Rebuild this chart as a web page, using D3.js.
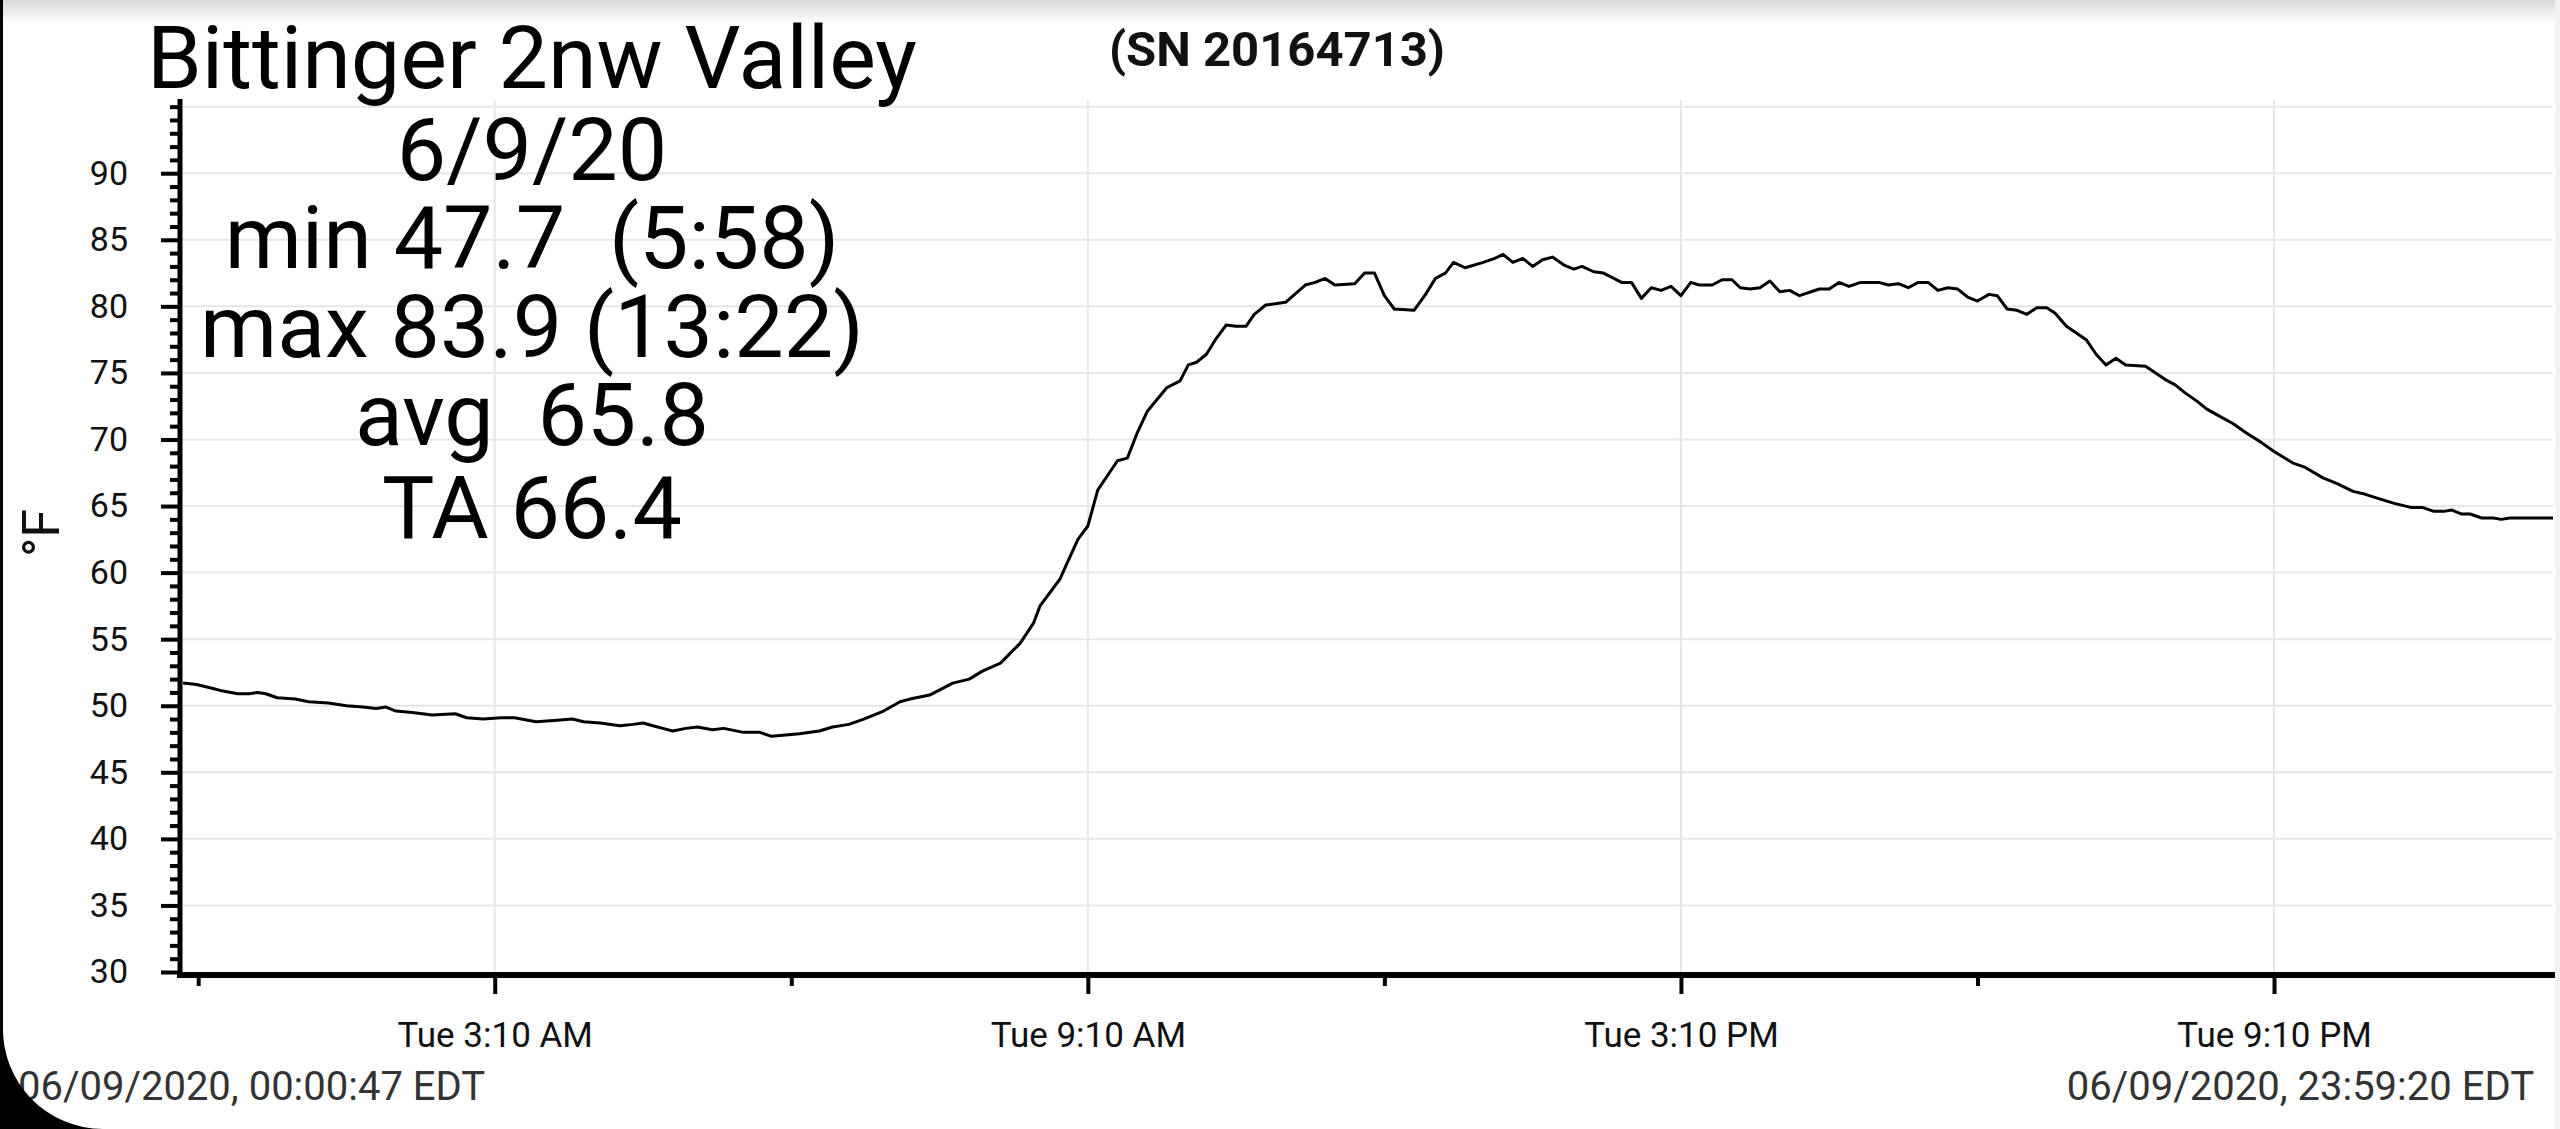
<!DOCTYPE html>
<html>
<head>
<meta charset="utf-8">
<script src="https://cdn.jsdelivr.net/npm/d3@7"></script>
<style>
  body { margin: 0; background: #fff; }
  svg { display: block; }
  text { font-family: Roboto, "Noto Sans", sans-serif; }
</style>
</head>
<body>
<svg id="chart" width="2560" height="1129"></svg>
<script>
// readings for 6/9/20 (time of day, deg F)
const day = "2020-06-09";
const times = ["00:00:47","00:09","00:19","00:25","00:34","00:41","00:46","00:51","00:58","01:09","01:17","01:29","01:40","01:50","01:58","02:04","02:10","02:20","02:32","02:46","02:53","03:03","03:14","03:22","03:35","03:46","03:57","04:04","04:14","04:26","04:34","04:40","04:46","04:52","04:58","05:06","05:13","05:22","05:29","05:41","05:51","05:58","06:15","06:27","06:35","06:45","06:54","07:06","07:16","07:22","07:34","07:48","07:58","08:06","08:17","08:29","08:37","08:41","08:53","08:57","09:04","09:10","09:16","09:28","09:34","09:40","09:46","09:58","10:06","10:11","10:16","10:22","10:28","10:34","10:40","10:46","10:51","10:58","11:10","11:22","11:28","11:34","11:40","11:52","11:58","12:04","12:10","12:16","12:28","12:35","12:41","12:47","12:52","12:59","13:10","13:17","13:22","13:28","13:34","13:40","13:46","13:52","13:59","14:05","14:10","14:17","14:23","14:34","14:40","14:46","14:52","14:58","15:04","15:10","15:16","15:21","15:29","15:35","15:41","15:46","15:52","15:58","16:04","16:10","16:16","16:22","16:34","16:40","16:46","16:52","16:59","17:05","17:10","17:16","17:22","17:28","17:34","17:40","17:46","17:52","17:58","18:04","18:10","18:17","18:22","18:28","18:34","18:40","18:46","18:52","18:57","19:04","19:16","19:22","19:28","19:34","19:40","19:52","20:04","20:10","20:16","20:23","20:29","20:39","20:45","20:53","21:02","21:10","21:22","21:29","21:40","21:48","21:58","22:05","22:15","22:23","22:33","22:40","22:47","22:53","22:58","23:04","23:09","23:16","23:23","23:28","23:33","23:59:20"];
const temps = [51.7,51.6,51.3,51.1,50.9,50.9,51.0,50.9,50.6,50.5,50.3,50.2,50.0,49.9,49.8,49.9,49.6,49.5,49.3,49.4,49.1,49.0,49.1,49.1,48.8,48.9,49.0,48.8,48.7,48.5,48.6,48.7,48.5,48.3,48.1,48.3,48.4,48.2,48.3,48.0,48.0,47.7,47.9,48.1,48.4,48.6,49.0,49.6,50.3,50.5,50.8,51.7,52.0,52.6,53.2,54.7,56.2,57.5,59.5,60.6,62.5,63.5,66.2,68.4,68.6,70.5,72.1,73.9,74.4,75.6,75.8,76.4,77.6,78.6,78.5,78.5,79.4,80.1,80.3,81.6,81.8,82.1,81.6,81.7,82.5,82.5,80.8,79.8,79.7,80.9,82.1,82.5,83.3,82.9,83.3,83.6,83.9,83.3,83.6,83.0,83.5,83.7,83.1,82.8,83.0,82.6,82.5,81.8,81.8,80.6,81.4,81.2,81.5,80.8,81.8,81.6,81.6,82.0,82.0,81.4,81.3,81.4,81.9,81.1,81.2,80.8,81.3,81.3,81.8,81.5,81.8,81.8,81.8,81.6,81.7,81.4,81.8,81.8,81.2,81.4,81.3,80.7,80.4,80.9,80.8,79.8,79.7,79.4,79.9,79.9,79.5,78.5,77.5,76.4,75.6,76.1,75.6,75.5,74.5,74.1,73.5,72.9,72.3,71.6,71.2,70.5,69.8,69.1,68.2,67.9,67.1,66.7,66.1,65.9,65.5,65.2,64.9,64.9,64.6,64.6,64.7,64.4,64.4,64.1,64.1,64.0,64.1,64.1];

const yTicks = [30, 35, 40, 45, 50, 55, 60, 65, 70, 75, 80, 85, 90];
const yGrid = [35, 40, 45, 50, 55, 60, 65, 70, 75, 80, 85, 90, 95];
const majorTimes = ["03:10", "09:10", "15:10", "21:10"];
const minorTimes = ["00:10", "06:10", "12:10", "18:10"];

const titleLines = ["Bittinger 2nw Valley", "6/9/20", "min 47.7  (5:58)", "max 83.9 (13:22)", "avg  65.8", "TA 66.4"];
const serial = "(SN 20164713)";
const yLabel = "°F";
const startLabel = "06/09/2020, 00:00:47 EDT";
const endLabel = "06/09/2020, 23:59:20 EDT";

const W = 2560, H = 1129;
const parse = d3.timeParse("%Y-%m-%d %H:%M:%S");
const toDate = t => parse(day + " " + (t.length === 5 ? t + ":00" : t));

const data = times.map((t, i) => ({ t: toDate(t), v: temps[i] }));

const svg = d3.select("#chart");

// screen frame bits
const defs = svg.append("defs");
const grad = defs.append("linearGradient").attr("id", "topShade").attr("x1", 0).attr("x2", 0).attr("y1", 0).attr("y2", 1);
grad.append("stop").attr("offset", "0%").attr("stop-color", "#d9d9d9");
grad.append("stop").attr("offset", "100%").attr("stop-color", "#ffffff");
svg.append("rect").attr("width", W).attr("height", 24).attr("fill", "url(#topShade)");

const xScale = d3.scaleTime()
  .domain([data[0].t, data[data.length - 1].t])
  .range([183, 2553]);
const yScale = d3.scaleLinear()
  .domain([30, 95.5])
  .range([972, 100]);

const plotTop = yScale(95.5), plotBottom = yScale(30);

// grid
svg.append("g").selectAll("line").data(yGrid).join("line")
  .attr("x1", 183).attr("x2", 2553)
  .attr("y1", d => yScale(d)).attr("y2", d => yScale(d))
  .attr("stroke", "#e6e6e6").attr("stroke-width", 2);
svg.append("g").selectAll("line").data(majorTimes.map(toDate)).join("line")
  .attr("x1", d => xScale(d)).attr("x2", d => xScale(d))
  .attr("y1", plotTop).attr("y2", plotBottom)
  .attr("stroke", "#e6e6e6").attr("stroke-width", 2);

// temperature line
const line = d3.line()
  .x(d => xScale(d.t))
  .y(d => yScale(d.v));
svg.append("path")
  .datum(data)
  .attr("fill", "none")
  .attr("stroke", "#000")
  .attr("stroke-width", 3)
  .attr("stroke-linejoin", "round")
  .attr("d", line);

// y axis: minor every degree, major every 5
const yMinor = d3.range(31, 96).filter(v => v % 5 !== 0).concat([95]);
const yMinorAxis = d3.axisLeft(yScale).tickValues(yMinor).tickSize(10).tickFormat("").tickSizeOuter(0);
const yMajorAxis = d3.axisLeft(yScale).tickValues(yTicks).tickSize(19).tickPadding(33).tickSizeOuter(0);

const gyMinor = svg.append("g").attr("transform", "translate(180,0)").call(yMinorAxis);
gyMinor.select(".domain").remove();
gyMinor.selectAll(".tick line").attr("stroke", "#000").attr("stroke-width", 4);

const gy = svg.append("g").attr("transform", "translate(180,0)").call(yMajorAxis);
gy.select(".domain").attr("stroke", "#000").attr("stroke-width", 5)
  .attr("d", `M0,${plotTop - 1}V${plotBottom + 6}`);
gy.selectAll(".tick line").attr("stroke", "#000").attr("stroke-width", 4);
gy.selectAll(".tick text").attr("font-size", 34).attr("fill", "#111")
  .style("font-family", "Roboto");

// x axis
const axisY = 975;
const fmt = d3.timeFormat("%a %-I:%M %p");
const xMinorAxis = d3.axisBottom(xScale).tickValues(minorTimes.map(toDate)).tickSize(11).tickFormat("").tickSizeOuter(0);
const xMajorAxis = d3.axisBottom(xScale).tickValues(majorTimes.map(toDate)).tickSize(19).tickPadding(28).tickFormat(fmt).tickSizeOuter(0);

const gxMinor = svg.append("g").attr("transform", `translate(0,${axisY})`).call(xMinorAxis);
gxMinor.select(".domain").remove();
gxMinor.selectAll(".tick line").attr("stroke", "#000").attr("stroke-width", 4);

const gx = svg.append("g").attr("transform", `translate(0,${axisY})`).call(xMajorAxis);
gx.select(".domain").attr("stroke", "#000").attr("stroke-width", 6)
  .attr("d", "M177,0H2556");
gx.selectAll(".tick line").attr("stroke", "#000").attr("stroke-width", 4);
gx.selectAll(".tick text").attr("font-size", 35).attr("fill", "#111")
  .style("font-family", "Roboto");

// axis title
svg.append("text")
  .attr("transform", "translate(59,533) rotate(-90)")
  .attr("text-anchor", "middle")
  .attr("font-size", 52)
  .attr("fill", "#111")
  .text(yLabel);

// header block
const baselines = [88, 180, 268, 357, 445, 538];
svg.append("g").selectAll("text").data(titleLines).join("text")
  .attr("x", 532)
  .attr("y", (d, i) => baselines[i])
  .attr("text-anchor", "middle")
  .attr("font-size", 88)
  .attr("fill", "#000")
  .style("white-space", "pre")
  .text(d => d);

svg.append("text")
  .attr("x", 1277).attr("y", 66)
  .attr("text-anchor", "middle")
  .attr("font-size", 49)
  .attr("font-weight", "bold")
  .attr("fill", "#111")
  .text(serial);

// footer timestamps
svg.append("text")
  .attr("x", 18).attr("y", 1100)
  .attr("font-size", 40).attr("fill", "#333")
  .text(startLabel);
svg.append("text")
  .attr("x", 2534).attr("y", 1100)
  .attr("text-anchor", "end")
  .attr("font-size", 40).attr("fill", "#333")
  .text(endLabel);

// device edges
svg.append("rect").attr("x", 0).attr("y", 0).attr("width", 3).attr("height", H).attr("fill", "#000");
svg.append("rect").attr("x", 2555).attr("y", 0).attr("width", 5).attr("height", H).attr("fill", "#f2f2f2");
const R = 100;
svg.append("path")
  .attr("d", `M0,${H - R - 3}L3,${H - R - 3}A${R},${R} 0 0 0 ${R + 3},${H}L0,${H}Z`)
  .attr("fill", "#000");
</script>
</body>
</html>
